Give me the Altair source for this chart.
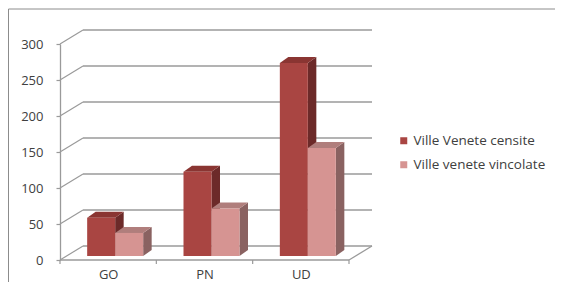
import altair as alt
import pandas as pd

categories = ["GO", "PN", "UD"]
censite = [53, 117, 268]
vincolate = [32, 66, 150]
series_names = ["Ville Venete censite", "Ville venete vincolate"]
y_ticks = [0, 50, 100, 150, 200, 250, 300]

front_colors = ["#a94542", "#d69492"]
top_colors = ["#8a3532", "#b07e7c"]
side_colors = ["#6c2a29", "#8a6261"]
line_col = "#9a9a9a"
FONT = "Open Sans"

W, H = 289, 216
YMAX = 300
px_x = W / len(categories)
px_y = H / YMAX

# pseudo-3D geometry: pixel constants converted to data units
wall_dx = 23 / px_x
wall_dy = 14 / px_y
bar_w = 28 / px_x
bar_shift = 7 / px_x
bar_base = 4 / px_y
depth_dx = 8.5 / px_x
depth_dy = 6 / px_y

front_rows, top_rows, side_rows = [], [], []
for i, cat in enumerate(categories):
    for s, (name, vals) in enumerate(zip(series_names, [censite, vincolate])):
        v = vals[i]
        xl = i + 0.5 + bar_shift + (s - 1) * bar_w
        xr = xl + bar_w
        b = bar_base
        t = bar_base + v
        bid = f"{cat}-{s}"
        front_rows.append(dict(cat=cat, series=name, value=v, x=xl, x2=xr, y=b, y2=t))
        for xx, lo, hi in [(xl, t, t), (xl + depth_dx, t, t + depth_dy),
                           (xr, t, t + depth_dy), (xr + depth_dx, t + depth_dy, t + depth_dy)]:
            top_rows.append(dict(id=bid, series=name, x=xx, lo=lo, hi=hi))
        for xx, lo, hi in [(xr, b, t), (xr + depth_dx, b + depth_dy, t + depth_dy)]:
            side_rows.append(dict(id=bid, series=name, x=xx, lo=lo, hi=hi))

front_df = pd.DataFrame(front_rows)
top_df = pd.DataFrame(top_rows)
side_df = pd.DataFrame(side_rows)

n = len(categories)
wall_left = pd.DataFrame({"x": [0.0] * len(y_ticks), "x2": [wall_dx] * len(y_ticks),
                          "y": y_ticks, "y2": [t + wall_dy for t in y_ticks]})
wall_back = pd.DataFrame({"x": [wall_dx] * len(y_ticks), "x2": [n + wall_dx] * len(y_ticks),
                          "y": [t + wall_dy for t in y_ticks]})
floor_edges = pd.DataFrame({"x": [0.0, float(n)], "x2": [float(n), n + wall_dx],
                            "y": [0.0, 0.0], "y2": [0.0, wall_dy]})
xticks_df = pd.DataFrame({"x": list(range(n + 1)), "y": [0.0] * (n + 1)})

xs = alt.Scale(domain=[0, n], nice=False, zero=False)
ys = alt.Scale(domain=[0, YMAX], nice=False)

label_expr = "[" + ",".join(f"'{c}'" for c in categories) + "][floor(datum.value)]"
XAXIS = alt.Axis(values=[i + 0.5 for i in range(n)], labelExpr=label_expr,
                 domain=False, ticks=False, grid=False, title=None,
                 labelPadding=8, labelFontSize=13, labelFont=FONT,
                 labelColor="#404040")
YAXIS = alt.Axis(values=y_ticks, grid=False, title=None, tickSize=4,
                 tickColor=line_col, domainColor=line_col, domainWidth=1.3,
                 tickWidth=1.2, labelPadding=13, labelFontSize=13, labelFont=FONT,
                 labelColor="#404040")


def X(f):
    return alt.X(f, scale=xs, axis=XAXIS)


def Y(f):
    return alt.Y(f, scale=ys, axis=YAXIS)


one = pd.DataFrame({"a": [0]})
frame_top = alt.Chart(one).mark_rule(color="#8c8c8c", strokeWidth=1).encode(
    x=alt.value(-51.5), x2=alt.value(495), y=alt.value(-35))
frame_left = alt.Chart(one).mark_rule(color="#8c8c8c", strokeWidth=1).encode(
    x=alt.value(-51.5), y=alt.value(-35), y2=alt.value(238))

grid_back = alt.Chart(wall_back).mark_rule(color=line_col, strokeWidth=1.3).encode(
    x=X("x:Q"), x2="x2:Q", y=Y("y:Q"))
grid_left = alt.Chart(wall_left).mark_rule(color=line_col, strokeWidth=1.2).encode(
    x=X("x:Q"), x2="x2:Q", y=Y("y:Q"), y2="y2:Q")
floor = alt.Chart(floor_edges).mark_rule(color=line_col, strokeWidth=1.3).encode(
    x=X("x:Q"), x2="x2:Q", y=Y("y:Q"), y2="y2:Q")
xticks = alt.Chart(xticks_df).mark_rule(color=line_col, strokeWidth=1.2).encode(
    x=X("x:Q"), y=alt.value(H), y2=alt.value(H + 4))

side = alt.Chart(side_df).mark_area(orient="vertical", interpolate="linear").encode(
    x=X("x:Q"), y=Y("lo:Q"), y2="hi:Q",
    detail="id:N",
    color=alt.Color("series:N", scale=alt.Scale(domain=series_names, range=side_colors),
                    legend=None))
top = alt.Chart(top_df).mark_area(orient="vertical", interpolate="linear").encode(
    x=X("x:Q"), y=Y("lo:Q"), y2="hi:Q",
    detail="id:N",
    color=alt.Color("series:N", scale=alt.Scale(domain=series_names, range=top_colors),
                    legend=None))
front = alt.Chart(front_df).mark_rect().encode(
    x=X("x:Q"), x2="x2:Q",
    y=Y("y:Q"), y2="y2:Q",
    color=alt.Color("series:N",
                    scale=alt.Scale(domain=series_names, range=front_colors),
                    legend=alt.Legend(orient="none", legendX=337, legendY=90, title=None,
                                      symbolType="square", symbolSize=49,
                                      symbolStrokeWidth=0, labelFontSize=13.5,
                                      labelFont=FONT, labelColor="#404040",
                                      rowPadding=9, labelOffset=3)),
    tooltip=["cat:N", "series:N", "value:Q"])

chart = alt.layer(
    frame_top, frame_left, grid_back, grid_left, floor, xticks, side, top, front
).resolve_scale(color="independent").properties(
    width=W, height=H,
    autosize=alt.AutoSizeParams(type="none"),
    padding={"left": 52, "top": 36, "right": 206, "bottom": 22},
    background="white",
).configure_view(stroke=None)

chart.save("out.html", embed_options={"renderer": "svg", "actions": False})
